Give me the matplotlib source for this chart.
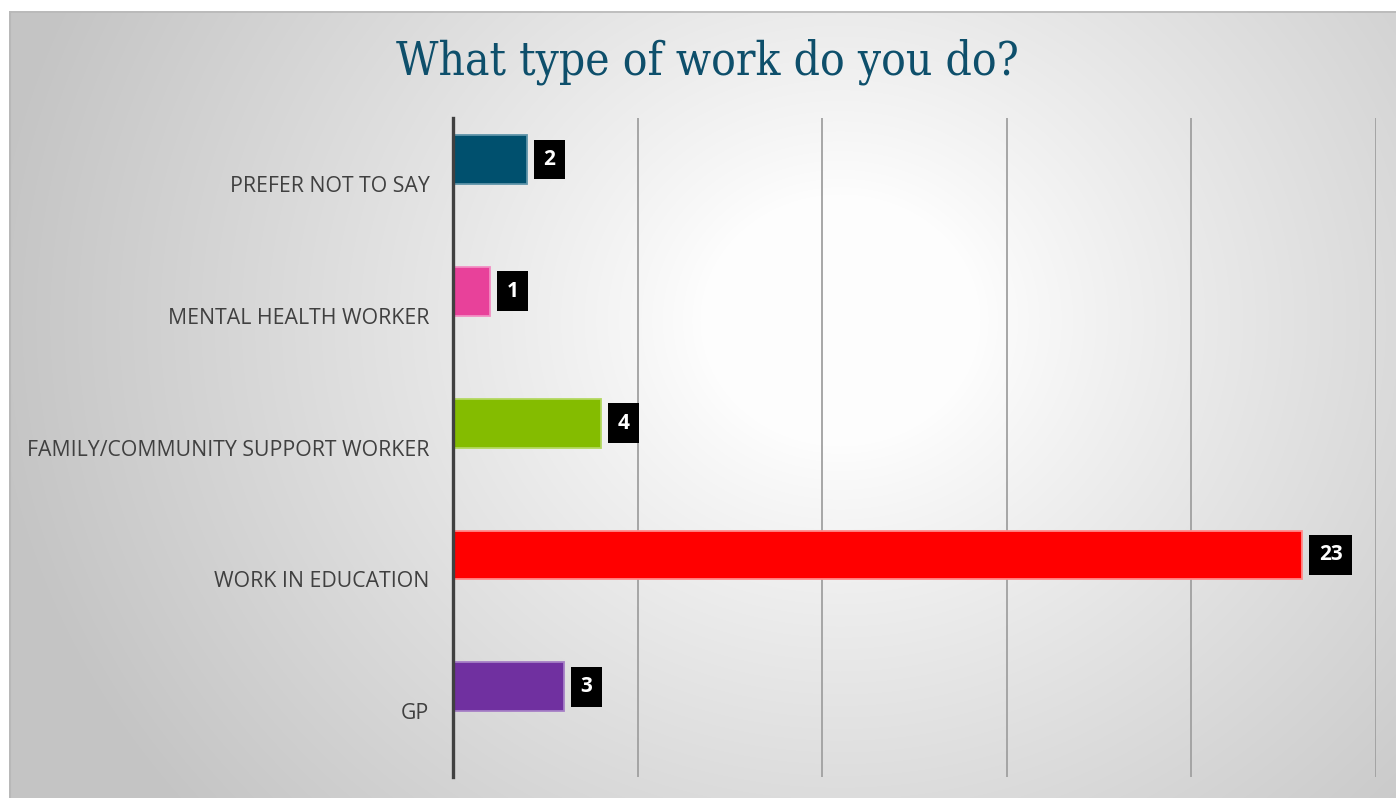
import numpy as np
import matplotlib
matplotlib.use("Agg")
import matplotlib.pyplot as plt

# Survey responses: type of work
categories = ["PREFER NOT TO SAY", "MENTAL HEALTH WORKER",
              "FAMILY/COMMUNITY SUPPORT WORKER", "WORK IN EDUCATION", "GP"]
counts = [2, 1, 4, 23, 3]
bar_colors = ["#00506E", "#E8419A", "#84BC00", "#FF0000", "#7030A0"]
edge_colors = ["#5E93A8", "#F28EC3", "#B3D860", "#FF8A8A", "#A67FC6"]
title = "What type of work do you do?"

W, H = 1396, 798
fig = plt.figure(figsize=(W / 100, H / 100), dpi=100)
fig.patch.set_facecolor("white")

# Panel background with a soft radial gradient
px0, py0 = 9, 11
bg = fig.add_axes([px0 / W, 0, 1 - px0 / W, 1 - py0 / H], zorder=0)
gx = np.arange(px0, W)
gy = np.arange(py0, H)
XX, YY = np.meshgrid(gx, gy)
r = np.hypot((XX - 840) / 1.0, (YY - 320) / 0.9)
val = 253 - 57 * np.clip((r - 140) / 720, 0, 1) ** 0.9
img = np.dstack([val, val, val]) / 255.0
bg.imshow(img, aspect="auto", extent=[0, 1, 0, 1], interpolation="bilinear")
bg.set_xlim(0, 1)
bg.set_ylim(0, 1)
bg.axis("off")
bg.plot([0, 1], [0.999, 0.999], color="#b8b8b8", lw=1.2, transform=bg.transAxes)
bg.plot([0.0007, 0.0007], [0, 1], color="#b8b8b8", lw=1.5, transform=bg.transAxes)

# Chart area
left, right, top, bottom = 453, 1376, 118, 777
ax = fig.add_axes([left / W, (H - bottom) / H, (right - left) / W, (bottom - top) / H], zorder=1)
ax.set_facecolor("none")

n = len(categories)
pos = np.arange(n)
bh = 0.37
ax.barh(pos - bh / 2, counts, height=bh, color=bar_colors,
        edgecolor=edge_colors, linewidth=1.3, zorder=3)

ax.set_xlim(0, 25)
ax.set_ylim(n - 0.5, -0.5)
ax.set_xticks([5, 10, 15, 20, 25])
ax.xaxis.grid(True, color="#a0a0a0", linewidth=1.3)
ax.set_axisbelow(True)
ax.tick_params(axis="x", length=0, labelbottom=False)
ax.set_yticks(pos)
ax.set_yticklabels(categories, fontfamily="Open Sans", fontsize=15.3, color="#404040")
ax.tick_params(axis="y", length=0, pad=17)
for side in ["top", "right", "bottom"]:
    ax.spines[side].set_visible(False)
ax.spines["left"].set_color("#404040")
ax.spines["left"].set_linewidth(2.4)
ax.spines["left"].set_zorder(4)

# Value labels in black boxes
for p, v in zip(pos, counts):
    ax.annotate(str(v), xy=(v, p - bh / 2), xytext=(12.0, 0),
                textcoords="offset points", ha="left", va="center",
                fontfamily="Open Sans", fontweight="bold", fontsize=15,
                color="white", zorder=5,
                bbox=dict(boxstyle="square,pad=0.45", facecolor="black",
                          edgecolor="none"))

fig.text(707 / W, 1 - 62 / H, title, ha="center", va="center",
         fontfamily="DejaVu Serif", fontstretch="condensed", fontsize=33,
         color="#0E4F6B", zorder=2)

fig.savefig("out.png", dpi=100, facecolor=fig.get_facecolor())
